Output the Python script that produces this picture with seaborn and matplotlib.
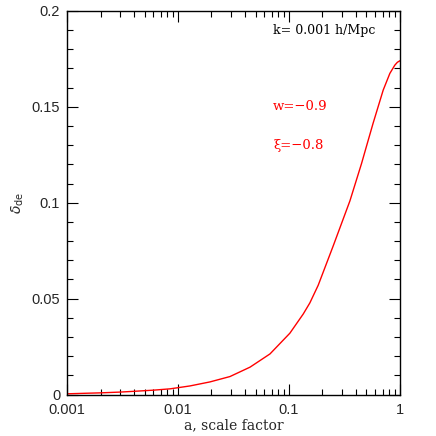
import numpy as np
import pandas as pd
import matplotlib
matplotlib.use("Agg")
import matplotlib.pyplot as plt
import matplotlib.ticker as mticker
import seaborn as sns

# ---------------------------------------------------
# DATA
# ---------------------------------------------------

scale_factor = [0.001, 0.0015, 0.002, 0.003, 0.004, 0.006, 0.0085, 0.0128,
                0.0194, 0.0294, 0.0446, 0.0675, 0.102, 0.1346, 0.1545,
                0.1837, 0.2508, 0.355, 0.452, 0.494, 0.574, 0.708, 0.813,
                0.901, 0.95, 1.0]
delta_de = [0.0004, 0.0007, 0.0009, 0.0013, 0.0017, 0.0023, 0.0030, 0.0045,
            0.0066, 0.0094, 0.0143, 0.0212, 0.0320, 0.0420, 0.0478,
            0.0570, 0.0775, 0.1010, 0.1205, 0.1283, 0.1414, 0.1587, 0.1674,
            0.1717, 0.1732, 0.1740]

x_ticks = [0.001, 0.01, 0.1, 1]
x_tick_labels = ["0.001", "0.01", "0.1", "1"]
y_ticks = [0, 0.05, 0.1, 0.15, 0.2]
y_tick_labels = ["0", "0.05", "0.1", "0.15", "0.2"]

k_label = "k= 0.001 h/Mpc"
w_label = "w=\u22120.9"
xi_label = "\u03be=\u22120.8"

df = pd.DataFrame({"a": scale_factor, "delta": delta_de})

# ---------------------------------------------------
# PLOT
# ---------------------------------------------------

sns.set_style("ticks")
plt.rcParams["font.family"] = ["Liberation Sans", "DejaVu Sans"]

fig = plt.figure(figsize=(4.36, 4.36), dpi=100)
ax = fig.add_axes([0.154, 0.095, 0.763, 0.880])

sns.lineplot(data=df, x="a", y="delta", color="red", linewidth=1.0, ax=ax)

ax.set_xscale("log")
ax.set_xlim(0.001, 1)
ax.set_ylim(0, 0.2)

ax.set_xticks(x_ticks)
ax.set_xticklabels(x_tick_labels)
ax.xaxis.set_minor_locator(mticker.LogLocator(base=10, subs=np.arange(2, 10)))
ax.xaxis.set_minor_formatter(mticker.NullFormatter())
ax.set_yticks(y_ticks)
ax.set_yticklabels(y_tick_labels)
ax.yaxis.set_minor_locator(mticker.MultipleLocator(0.01))

ax.tick_params(which="both", direction="in", top=True, right=True,
               labelsize=10.5, color="black", width=0.8)
ax.tick_params(axis="x", which="major", length=8, pad=6)
ax.tick_params(axis="y", which="major", length=8, pad=5)
ax.tick_params(which="minor", length=4)
for s in ax.spines.values():
    s.set_linewidth(1.0)
    s.set_color("black")

serif = ["DejaVu Serif"]
ax.set_xlabel("a, scale factor", family=serif, fontsize=10, labelpad=1)
ax.set_ylabel(r"$\delta_{\rm de}$", fontsize=10, labelpad=4)

ax.text(0.619, 0.95, k_label, transform=ax.transAxes, family=serif,
        fontsize=9, va="center", ha="left", color="black")
ax.text(0.619, 0.75, w_label, transform=ax.transAxes, family=serif,
        fontsize=9.5, va="center", ha="left", color="red")
ax.text(0.619, 0.65, xi_label, transform=ax.transAxes, family=serif,
        fontsize=9.5, va="center", ha="left", color="red")

fig.savefig("out.png", dpi=100)
